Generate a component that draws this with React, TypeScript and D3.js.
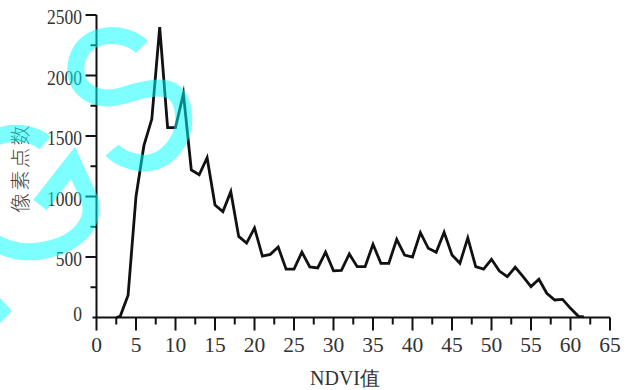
import React from "react";
import * as d3 from "d3";

const ndvi = [2.5, 3, 4, 5, 6, 7, 8, 9, 10, 11, 12, 13, 14, 15, 16, 17, 18, 19, 20, 21, 22, 23, 24, 25, 26, 27, 28, 29, 30, 31, 32, 33, 34, 35, 36, 37, 38, 39, 40, 41, 42, 43, 44, 45, 46, 47, 48, 49, 50, 51, 52, 53, 54, 55, 56, 57, 58, 59, 60, 61, 61.7];
const pixels = [0, 10, 185, 1000, 1420, 1640, 2400, 1570, 1570, 1850, 1220, 1180, 1320, 930, 875, 1040, 670, 615, 740, 508, 522, 582, 400, 400, 540, 418, 410, 540, 386, 390, 525, 420, 420, 605, 448, 448, 646, 516, 500, 702, 572, 539, 705, 516, 448, 658, 420, 400, 481, 384, 337, 415, 337, 255, 316, 200, 145, 150, 76, 10, 5];
const xTicks = [0, 5, 10, 15, 20, 25, 30, 35, 40, 45, 50, 55, 60, 65];
const yTicks = [0, 500, 1000, 1500, 2000, 2500];
const xTitle = "NDVI值";
const yTitle = "像素点数";

export default function App() {
  const W = 629, H = 390;
  const x = d3.scaleLinear().domain([0, 65]).range([96.5, 610]);
  const y = d3.scaleLinear().domain([0, 2500]).range([317.5, 15]);
  const pts = ndvi.map((v, i) => [v, pixels[i]] as [number, number]);
  const line = d3.line<[number, number]>().x(d => x(d[0])).y(d => y(d[1]))(pts) || "";
  const xMinor = d3.range(2.5, 65, 5);
  const yMinor = d3.range(250, 2500, 500);
  const axisColor = "#111";
  const textColor = "#333";
  const serif = "'Liberation Serif', 'Times New Roman', serif";
  const y0 = y(0);
  const xa = x(0);
  return (
    <svg width={W} height={H} style={{ position: "absolute", left: 0, top: 0, background: "#fff" }}>
      {/* data line */}
      <path d={line} fill="none" stroke="#111" strokeWidth={2.8} strokeLinejoin="miter" strokeMiterlimit={10} />
      {/* axes */}
      <line x1={xa} x2={xa} y1={y(2500)} y2={y0 + 13} stroke={axisColor} strokeWidth={2} />
      <line x1={xa - 4} x2={x(65)} y1={y0} y2={y0} stroke={axisColor} strokeWidth={2} />
      {xTicks.filter(t => t > 0).map(t => (
        <line key={"xt" + t} x1={x(t)} x2={x(t)} y1={y0} y2={y0 + 13} stroke={axisColor} strokeWidth={2} />
      ))}
      {xMinor.map(t => (
        <line key={"xm" + t} x1={x(t)} x2={x(t)} y1={y0} y2={y0 + 7} stroke={axisColor} strokeWidth={2} />
      ))}
      {yTicks.filter(t => t > 0).map(t => (
        <line key={"yt" + t} x1={xa - 11} x2={xa} y1={y(t)} y2={y(t)} stroke={axisColor} strokeWidth={2} />
      ))}
      {yMinor.map(t => (
        <line key={"ym" + t} x1={xa - 6} x2={xa} y1={y(t)} y2={y(t)} stroke={axisColor} strokeWidth={2} />
      ))}
      {/* tick labels */}
      {xTicks.map(t => (
        <text key={"xl" + t} x={x(t)} y={351.5} textAnchor="middle" fontFamily={serif} fontSize={21.5} fill={textColor}>{t}</text>
      ))}
      {yTicks.map(t => (
        <g key={"yl" + t} transform={`translate(82,${(t === 0 ? y(t) - 4 : y(t) + 2)}) scale(0.875,1)`}>
          <text x={0} y={0} dy="0.35em" textAnchor="end" fontFamily={serif} fontSize={20} fill={textColor}>{t}</text>
        </g>
      ))}
      {/* axis titles */}
      <text x={345} y={385} textAnchor="middle" fontFamily={serif} fontSize={20} fill={textColor}>{xTitle}</text>
      <text transform="translate(21,168) rotate(-90)" textAnchor="middle" dy="0.35em" fontFamily="'Noto Sans CJK SC', serif" fontWeight={300} fontSize={20} letterSpacing={2.5} fill="#444">{yTitle}</text>
      {/* watermark */}
      <g opacity={0.5}>
        <path d="M 142,47 C 125,30 85,30 77,60 C 70,88 95,105 125,95 C 155,85 178,82 183,110 C 188,140 165,165 142,163 C 130,162 118,157 112,150" fill="none" stroke="#00ffff" strokeWidth={17} />
        <path d="M 45,143 C 25,125 -25,130 -35,175 C -45,220 -5,258 40,251 C 75,246 96,225 90,200 L 73,163 L 40,205" fill="none" stroke="#00ffff" strokeWidth={17} strokeLinejoin="miter" />
        <path d="M 0,298 L 12,311 L 0,323 Z" fill="#00ffff" />
      </g>
    </svg>
  );
}
